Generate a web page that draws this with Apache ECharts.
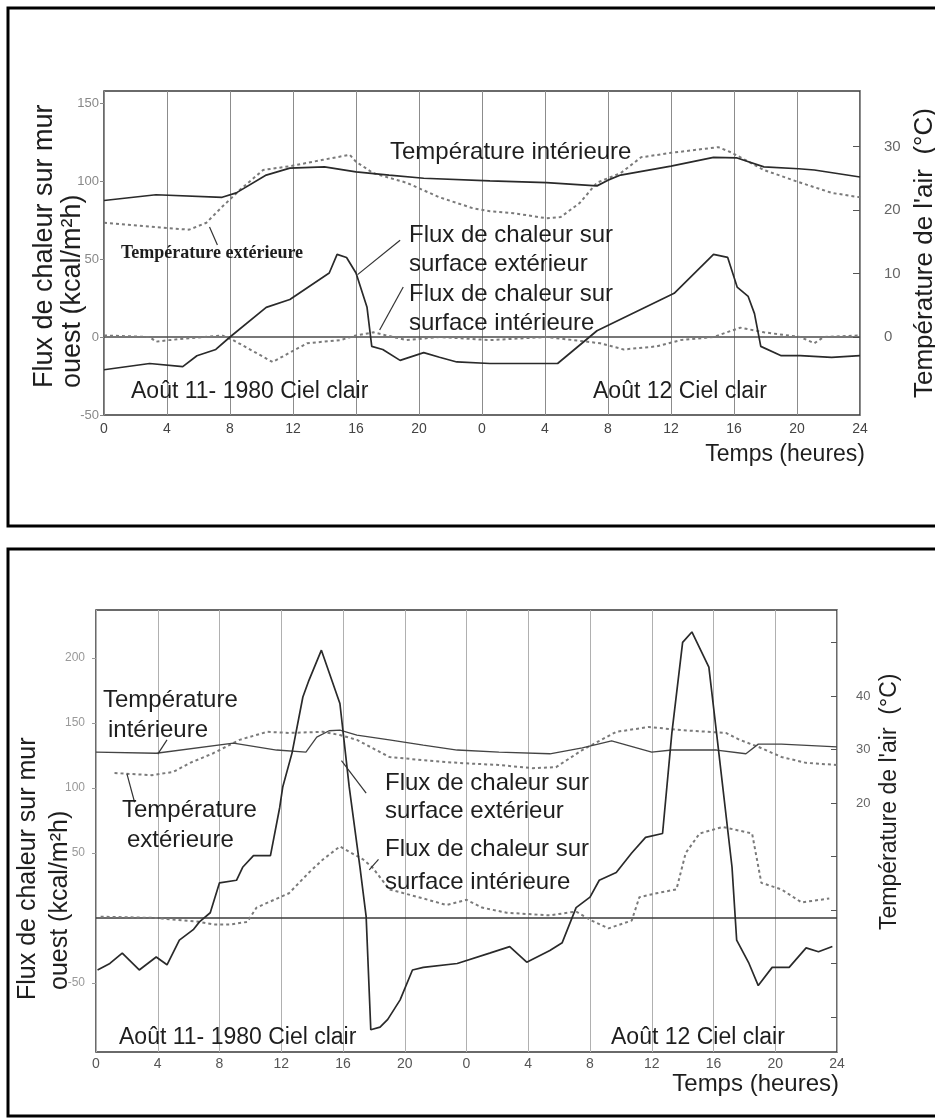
<!DOCTYPE html>
<html><head><meta charset="utf-8">
<script src="https://cdn.jsdelivr.net/npm/echarts@6/dist/echarts.min.js"></script>
<style>html,body{margin:0;padding:0;background:#fff;}#c{width:935px;height:1119px;}</style>
</head><body><div id="c"></div>
<script>
// ---- tick labels ----
const xTickLabels = ['0','4','8','12','16','20','0','4','8','12','16','20','24'];
const topFluxTicks = [-50,0,50,100,150];
const topTempTicks = [0,10,20,30];
const botFluxTicks = [-50,50,100,150,200];
const botTempTicks = [20,30,40];
const botTempTickMarks = [-20,-10,0,10,20,30,40,50];

// ---- top panel (Août 11-12, mur ouest) : [heure, valeur] ----
const topTempInt = [[0,21.5],[3.3,22.4],[7.5,22.0],[8.4,22.7],[10.3,25.5],[11.8,26.6],[14.0,26.8],[16.0,26.0],[18.1,25.5],[20.3,25.0],[24.5,24.6],[28.1,24.3],[31.3,23.8],[32.0,24.7],[32.8,25.5],[36.0,26.9],[38.7,28.3],[40.2,28.2],[41.9,26.8],[44.1,26.5],[45.1,26.3],[48,25.2]];
const topTempExt = [[0,18.0],[3.3,17.3],[5.4,16.9],[6.5,18.0],[7.5,20.5],[8.6,23.1],[10.1,26.3],[11.8,26.9],[13.9,27.9],[15.6,28.7],[16.0,27.6],[17.1,25.8],[19.2,24.3],[21.3,22.0],[23.4,20.3],[24.5,19.8],[26.0,19.5],[28.1,18.7],[29.0,18.9],[30.2,21.1],[31.3,24.3],[32.8,25.8],[34.1,28.3],[36.0,29.0],[39.0,29.9],[39.8,29.1],[41.9,26.3],[44.1,24.4],[46.2,22.7],[48,22.0]];
const topFluxExt = [[0,-21],[2.9,-17],[5.0,-19],[5.9,-12],[7.1,-8],[8.0,0],[10.3,19],[11.8,24],[14.3,41],[14.8,53],[15.4,51],[16.0,41],[16.7,19],[17.0,-6],[17.7,-8],[18.8,-15],[20.3,-10],[21.3,-13],[22.4,-16],[24.5,-17],[28.8,-17],[31.3,4],[36.2,28],[38.7,53],[39.6,51],[40.2,32],[40.9,26],[41.3,15],[41.7,-6],[43.0,-12],[44.2,-12],[46.2,-13],[48,-12]];
const topFluxInt = [[0,1],[2.9,0],[3.3,-3],[4.1,-2],[7.5,1],[8.2,-2],[10.7,-16],[12.9,-4],[15.0,-2],[16.0,1],[17.1,3],[19.2,-2],[21.3,0],[24.5,-2],[28.1,0],[31.5,-4],[33.0,-8],[35.1,-6],[36.6,-2],[38.7,0],[40.4,6],[41.9,3],[44.2,0],[45.1,-4],[45.7,0],[48,1]];
const topZero = [[0,0],[48,0]];
const topPointers = [[[7.2,59],[6.7,70.5]],[[18.8,62],[16.1,40]],[[19.0,32],[17.5,4.5]]];

// ---- bottom panel ----
const botTempInt = [[0,29.5],[3.9,29.3],[8.9,31.2],[11.7,29.9],[13.6,29.5],[14.3,32.3],[15.1,33.5],[15.8,33.6],[16.9,32.7],[19.0,31.8],[21.2,30.8],[23.4,29.9],[26.1,29.5],[29.4,29.2],[31.5,30.3],[33.4,31.6],[36.0,29.5],[37.3,29.9],[40.2,29.9],[42.1,29.2],[42.9,31.0],[44.4,31.0],[48,30.5]];
const botTempExt = [[1.2,25.6],[3.6,25.2],[5.0,25.8],[6.1,27.5],[7.6,29.3],[9.3,31.8],[11.1,33.3],[12.5,33.1],[14.7,33.3],[15.8,32.7],[16.9,31.8],[19.0,28.6],[21.2,28.0],[23.4,27.5],[26.1,27.1],[28.3,26.5],[29.8,26.7],[31.5,29.9],[33.7,33.3],[35.8,34.2],[38.0,33.6],[40.8,33.1],[41.7,31.8],[42.9,30.5],[44.4,28.6],[46.0,27.5],[48,27.1]];
const botFluxExt = [[0.1,-40],[0.9,-35],[1.7,-27],[2.8,-40],[3.9,-30],[4.6,-36],[5.4,-17],[6.3,-9],[6.7,-3],[7.4,4],[8.0,27],[9.1,29],[9.5,39],[10.2,48],[11.3,48],[11.9,85],[12.1,101],[12.7,127],[13.4,170],[13.8,183],[14.6,206],[15.8,165],[16.4,101],[17.1,39],[17.5,1],[17.8,-86],[18.4,-84],[18.9,-78],[19.7,-63],[20.5,-40],[21.2,-38],[23.4,-35],[25.5,-27],[26.8,-22],[27.9,-34],[29.4,-25],[30.2,-19],[31.1,8],[32.0,16],[32.6,29],[33.7,35],[34.7,50],[35.6,62],[36.7,65],[37.3,142],[38.0,212],[38.6,220],[39.7,193],[40.2,142],[41.2,39],[41.5,-17],[42.3,-35],[42.9,-52],[43.8,-38],[44.9,-38],[46.0,-23],[46.8,-26],[47.7,-22]];
const botFluxInt = [[0.3,1],[3.9,0],[6.7,-3],[7.6,-5],[8.7,-5],[9.8,-3],[10.4,8],[12.5,19],[13.8,35],[14.7,45],[15.8,55],[17.3,45],[17.9,39],[19.0,22],[21.2,15],[22.7,10],[24.0,14],[25.0,8],[26.6,4],[29.4,2],[31.1,5],[32.1,-2],[33.2,-8],[34.7,-2],[35.2,16],[36.3,19],[37.6,22],[38.2,50],[39.1,65],[40.6,70],[42.5,65],[43.1,27],[44.4,22],[45.7,12],[47.5,15]];
const botZero = [[0,0],[48,0]];
const botPointers = [[[4.6,137],[4.0,126]],[[2.0,111],[2.5,89]],[[17.5,96],[15.9,121]],[[17.7,37],[18.3,45]]];

const FONT = "'Liberation Sans', Arial, sans-serif";
const NARROW = "'Liberation Sans Narrow','Liberation Sans',sans-serif";
const chart = echarts.init(document.getElementById('c'), null, {renderer:'canvas'});

function solid(data, xi, yi, extra) {
  return Object.assign({type:'line', data, xAxisIndex:xi, yAxisIndex:yi, symbol:'none', showSymbol:false,
    lineStyle:{color:'#2a2a2a', width:1.7}, z:4, silent:true, animation:false}, extra||{});
}
function dotted(data, xi, yi) {
  return {type:'line', data, xAxisIndex:xi, yAxisIndex:yi, symbol:'none', showSymbol:false,
    lineStyle:{color:'#7a7a7a', width:2, type:[3,3]}, z:3, silent:true, animation:false};
}
function pointers(list) {
  return {silent:true, symbol:['none','none'], label:{show:false}, animation:false,
    lineStyle:{color:'#333', width:1.2, type:'solid'},
    data:list.map(p => [{coord:p[0]},{coord:p[1]}])};
}
function xAxis(gi, margin, gridColor, color) {
  return {type:'value', gridIndex:gi, min:0, max:48, interval:4,
    axisLine:{show:false}, axisTick:{show:false},
    axisLabel:{color, fontSize:14, fontFamily:NARROW, margin,
      formatter:v => xTickLabels[Math.round(v/4)]},
    splitLine:{show:true, lineStyle:{color:gridColor, width:1}}};
}
function txt(text, x, y, size, align) {
  return {type:'text', z:100, silent:true,
    style:{text, x, y, fill:'#1e1e1e', font: size+'px '+FONT, textAlign:align||'left', textVerticalAlign:'middle'}};
}
function vtxt(text, x, y, size) {
  return {type:'text', z:100, silent:true, x, y, rotation:Math.PI/2,
    style:{text, x:0, y:0, fill:'#1e1e1e', font: size+'px '+FONT, textAlign:'left', textVerticalAlign:'middle'}};
}

const option = {
  backgroundColor:'#ffffff',
  animation:false,
  grid:[
    {left:104, right:75, top:91, height:324, show:true, borderColor:'#3a3a3a', borderWidth:1.5, backgroundColor:'transparent', containLabel:false, outerBoundsMode:'none'},
    {left:96, right:98, top:610, height:442, show:true, borderColor:'#3a3a3a', borderWidth:1.5, backgroundColor:'transparent', containLabel:false, outerBoundsMode:'none'}
  ],
  xAxis:[ xAxis(0, 7, '#8c8c8c', '#444'), xAxis(1, 5, '#b0b0b0', '#555') ],
  yAxis:[
    {type:'value', gridIndex:0, position:'left', min:-50, max:157.7,
      axisLine:{show:false}, splitLine:{show:false},
      axisTick:{show:true, length:4, customValues:topFluxTicks, lineStyle:{color:'#888'}},
      axisLabel:{customValues:topFluxTicks, color:'#888', fontSize:13, margin:5, fontFamily:NARROW}},
    {type:'value', gridIndex:0, position:'right', min:-12.28, max:38.74,
      axisLine:{show:false}, splitLine:{show:false},
      axisTick:{show:true, inside:true, length:7, customValues:topTempTicks, lineStyle:{color:'#555'}},
      axisLabel:{customValues:topTempTicks, color:'#666', fontSize:15, margin:24, fontFamily:NARROW}},
    {type:'value', gridIndex:1, position:'left', min:-103.1, max:236.9,
      axisLine:{show:false}, splitLine:{show:false},
      axisTick:{show:true, length:4, customValues:botFluxTicks, lineStyle:{color:'#999'}},
      axisLabel:{customValues:botFluxTicks, color:'#999', fontSize:12, margin:11, fontFamily:NARROW}},
    {type:'value', gridIndex:1, position:'right', min:-26.54, max:56.07,
      axisLine:{show:false}, splitLine:{show:false},
      axisTick:{show:true, inside:true, length:6, customValues:botTempTickMarks, lineStyle:{color:'#555'}},
      axisLabel:{customValues:botTempTicks, color:'#666', fontSize:13, margin:19, fontFamily:NARROW}}
  ],
  series:[
    solid(topZero, 0, 0, {lineStyle:{color:'#4a4a4a', width:1.5}, z:2}),
    solid(topTempInt, 0, 1),
    dotted(topTempExt, 0, 1),
    solid(topFluxExt, 0, 0, {markLine: pointers(topPointers)}),
    dotted(topFluxInt, 0, 0),
    solid(botZero, 1, 2, {lineStyle:{color:'#3a3a3a', width:1.6}, z:2}),
    solid(botTempInt, 1, 3, {lineStyle:{color:'#444', width:1.3}}),
    dotted(botTempExt, 1, 3),
    solid(botFluxExt, 1, 2, {markLine: pointers(botPointers)}),
    dotted(botFluxInt, 1, 2)
  ],
  graphic:[
    {type:'rect', z:90, silent:true, shape:{x:8, y:8, width:940, height:518}, style:{fill:'none', stroke:'#000', lineWidth:3}},
    {type:'rect', z:90, silent:true, shape:{x:8, y:549, width:940, height:567}, style:{fill:'none', stroke:'#000', lineWidth:3}},
    // top panel
    txt('Température intérieure', 390, 152, 24),
    {type:'text', z:100, silent:true, style:{text:'Température extérieure', x:121, y:253, fill:'#1e1e1e', font:"bold 18px 'Liberation Serif', 'Times New Roman', serif", textAlign:'left', textVerticalAlign:'middle'}},
    txt('Flux de chaleur sur', 409, 235, 24),
    txt('surface extérieur', 409, 264, 24),
    txt('Flux de chaleur sur', 409, 294, 24),
    txt('surface intérieure', 409, 323, 24),
    txt('Août 11- 1980 Ciel clair', 131, 392, 23),
    txt('Août 12 Ciel clair', 593, 392, 23),
    txt('Temps (heures)', 865, 455, 23, 'right'),
    vtxt('Flux de chaleur sur mur', 45, 388, 27),
    vtxt('ouest (kcal/m²h)', 73, 388, 27),
    vtxt("Température de l'air  (°C)", 925, 398, 26),
    // bottom panel
    txt('Température', 103, 700, 24),
    txt('intérieure', 108, 730, 24),
    txt('Température', 122, 810, 24),
    txt('extérieure', 127, 840, 24),
    txt('Flux de chaleur sur', 385, 783, 24),
    txt('surface extérieur', 385, 811, 24),
    txt('Flux de chaleur sur', 385, 849, 24),
    txt('surface intérieure', 385, 882, 24),
    txt('Août 11- 1980 Ciel clair', 119, 1038, 23),
    txt('Août 12 Ciel clair', 611, 1038, 23),
    txt('Temps (heures)', 839, 1084, 24, 'right'),
    vtxt('Flux de chaleur sur mur', 28, 1000, 25),
    vtxt('ouest (kcal/m²h)', 60, 990, 25),
    vtxt("Température de l'air  (°C)", 890, 930, 23)
  ]
};
chart.setOption(option);
</script>
</body></html>
